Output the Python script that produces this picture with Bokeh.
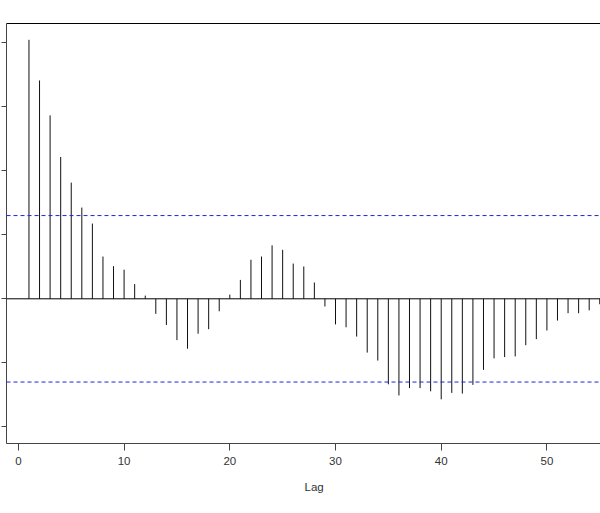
from bokeh.plotting import figure
from bokeh.models import Span, Title, LinearAxis, FixedTicker, Range1d
from bokeh.embed import file_html
from bokeh.resources import INLINE

lags = list(range(1, 56))
acf = [0.809, 0.682, 0.573, 0.443, 0.363, 0.285, 0.235, 0.132, 0.102, 0.091,
       0.046, 0.010, -0.047, -0.082, -0.129, -0.156, -0.109, -0.095, -0.039, 0.013,
       0.059, 0.122, 0.132, 0.167, 0.153, 0.110, 0.101, 0.051, -0.024, -0.080,
       -0.089, -0.118, -0.168, -0.193, -0.267, -0.302, -0.279, -0.279, -0.289, -0.314,
       -0.294, -0.296, -0.269, -0.222, -0.186, -0.182, -0.180, -0.145, -0.126, -0.099,
       -0.068, -0.045, -0.045, -0.036, -0.017]
conf_limit = 0.26
x_ticks = [0, 10, 20, 30, 40, 50]
y_ticks = [-0.4, -0.2, 0.0, 0.2, 0.4, 0.6, 0.8]

p = figure(width=600, height=513, output_backend="svg", toolbar_location=None,
           x_range=Range1d(-1.125, 55.07), y_range=Range1d(-0.452, 0.860),
           min_border_left=6, min_border_right=0, min_border_top=23, min_border_bottom=70)
p.outline_line_color = None
p.grid.visible = False
p.background_fill_color = "white"

p.segment(x0=lags, y0=[0] * len(lags), x1=lags, y1=acf, line_color="#111111", line_width=1)

p.add_layout(Span(location=0, dimension="width", line_color="black", line_width=1))
for loc in (conf_limit, -conf_limit):
    p.add_layout(Span(location=loc, dimension="width", line_color="#2020e0",
                      line_width=1, line_dash="4 3"))

xa = p.xaxis[0]
xa.ticker = FixedTicker(ticks=x_ticks)
xa.minor_tick_line_color = None
xa.major_tick_in = 0
xa.major_tick_out = 7
xa.axis_line_color = "#444444"
xa.major_tick_line_color = "#444444"
xa.major_label_text_font = "Liberation Sans"
xa.major_label_text_font_size = "11.5px"
xa.major_label_text_color = "#333333"
xa.major_label_standoff = 6

ya = p.yaxis[0]
ya.ticker = FixedTicker(ticks=y_ticks)
ya.minor_tick_line_color = None
ya.major_tick_in = 0
ya.major_tick_out = 5
ya.axis_line_color = "#444444"
ya.major_tick_line_color = "#444444"
ya.major_label_overrides = {t: "" for t in y_ticks}
ya.major_label_standoff = 0

top = LinearAxis(ticker=FixedTicker(ticks=[]), major_tick_in=0, major_tick_out=0,
                 minor_tick_line_color=None, axis_line_color="black", major_label_standoff=0)
p.add_layout(top, "above")

p.add_layout(Title(text="Lag", align="left", offset=298, text_font="Liberation Sans",
                   text_font_size="11.5px", text_color="#333333", text_font_style="normal",
                   standoff=22), "below")

open("out.html", "w").write(file_html(p, INLINE))
